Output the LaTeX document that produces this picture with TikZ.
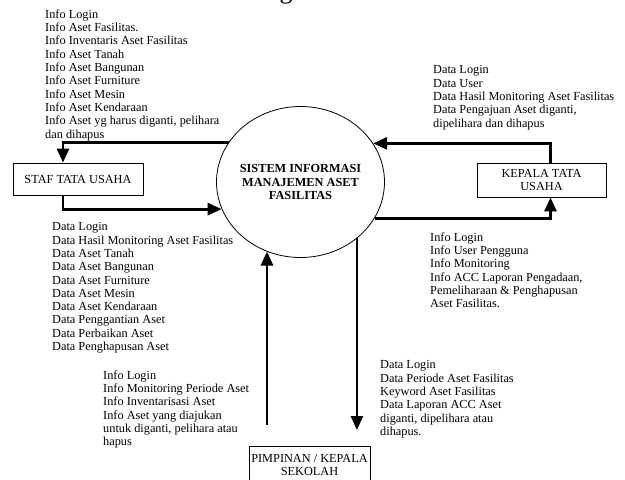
\documentclass[tikz,border=0pt]{standalone}
\usepackage{fontspec}
\setmainfont{Liberation Serif}
\usetikzlibrary{arrows.meta,shapes.geometric}
\newcommand\dfdfont{\fontsize{12.3}{13.3}\selectfont}
\tikzset{
  entity/.style={draw, line width=0.8pt, rectangle, inner sep=0pt, align=center, font=\dfdfont},
  process/.style={draw, ellipse, line width=0.8pt, inner sep=0pt, minimum width=168pt, minimum height=151pt},
  proctext/.style={align=center, inner sep=0pt, font=\dfdfont\bfseries},
  flow/.style={line width=2.8pt, -{Triangle[width=12pt,length=14pt]}},
  flowtext/.style={anchor=north west, inner sep=0pt, align=left, font=\dfdfont},
}
\begin{document}
\begin{tikzpicture}[x=1pt,y=-1pt]
\useasboundingbox (0,0) rectangle (625,480);

% heading cut off at the top edge
\begin{scope}
  \clip (0,0) rectangle (625,480);
  \node[anchor=base, inner sep=0pt, font=\fontsize{26}{26}\selectfont] (head) at (286,-2) {g};
\end{scope}

% process and external entities
\node[process] (sys) at (300.5,182) {};
\node[proctext] (systxt) at (sys.center) {SISTEM INFORMASI\\MANAJEMEN ASET\\FASILITAS};
\node[entity, minimum width=130pt, minimum height=32pt] (staf) at (78,179) {STAF TATA USAHA};
\node[entity, minimum width=129pt, minimum height=34pt] (kep) at (541.5,180) {KEPALA TATA\\USAHA};
\node[entity, minimum width=121pt, minimum height=38pt] (pim) at (309.5,465) {PIMPINAN / KEPALA\\SEKOLAH};

% data flows
\draw[flow] (sys.151.4) -| ([xshift=-15pt]staf.north);
\draw[flow] ([xshift=-15pt]staf.south) |- (sys.199.9);
\draw[flow] ([xshift=9pt]kep.north) |- (sys.28.6);
\draw[flow] (sys.334.5) -| ([xshift=9pt]kep.south);
\coordinate (upstart) at (267,425);
\draw[flow] (upstart) -- (upstart |- sys.244);
\coordinate (downend) at (357,430);
\draw[flow] (sys.315.8) -- (sys.315.8 |- downend);

% flow labels
\node[flowtext] (t1) at (45,9.5) {Info Login\\Info Aset Fasilitas.\\Info Inventaris Aset Fasilitas\\Info Aset Tanah\\Info Aset Bangunan\\Info Aset Furniture\\Info Aset Mesin\\Info Aset Kendaraan\\Info Aset yg harus diganti, pelihara\\dan dihapus};
\node[flowtext] (t2) at (433,65.5) {Data Login\\Data User\\Data Hasil Monitoring Aset Fasilitas\\Data Pengajuan Aset diganti,\\dipelihara dan dihapus};
\node[flowtext] (t3) at (52,222.5) {Data Login\\Data Hasil Monitoring Aset Fasilitas\\Data Aset Tanah\\Data Aset Bangunan\\Data Aset Furniture\\Data Aset Mesin\\Data Aset Kendaraan\\Data Penggantian Aset\\Data Perbaikan Aset\\Data Penghapusan Aset};
\node[flowtext] (t4) at (430,232.5) {Info Login\\Info User Pengguna\\Info Monitoring\\Info ACC Laporan Pengadaan,\\Pemeliharaan \& Penghapusan\\Aset Fasilitas.};
\node[flowtext] (t5) at (103,370.5) {Info Login\\Info Monitoring Periode Aset\\Info Inventarisasi Aset\\Info Aset yang diajukan\\untuk diganti, pelihara atau\\hapus};
\node[flowtext] (t6) at (380,360.5) {Data Login\\Data Periode Aset Fasilitas\\Keyword Aset Fasilitas\\Data Laporan ACC Aset\\diganti, dipelihara atau\\dihapus.};
\end{tikzpicture}
\end{document}
